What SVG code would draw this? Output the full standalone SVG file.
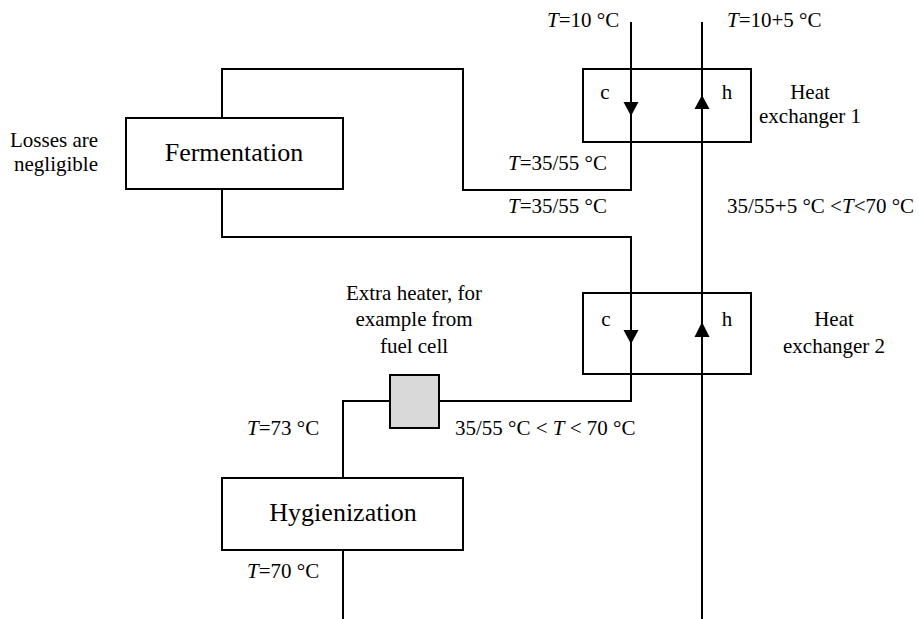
<svg xmlns="http://www.w3.org/2000/svg" width="919" height="619" viewBox="0 0 919 619" font-family="'Liberation Serif', 'Times New Roman', Tinos, 'DejaVu Serif', serif">
<style>
text{font-family:'Liberation Serif','Times New Roman',Tinos,'DejaVu Serif',serif;fill:#000}
.lbl{font-size:21px}
.big{font-size:26px}
.box{fill:none;stroke:#000;stroke-width:2}
.heater{fill:#d9d9d9;stroke:#000;stroke-width:2}
.line{fill:none;stroke:#000;stroke-width:2}
.arr{fill:#000;stroke:none}
.it{font-style:italic}
</style>
<rect width="919" height="619" fill="#fff"/>
<g id="connectors">
<path class="line" d="M631,22 V190 H463 V69 H222 V118"/>
<path class="line" d="M222,189 V237 H631 V401 H439"/>
<path class="line" d="M390,401 H343 V478"/>
<path class="line" d="M343,550 V619"/>
<path class="line" d="M702,619 V22"/>
<polygon class="arr" points="623.5,102 638.5,102 631,116"/>
<polygon class="arr" points="694.5,109 709.5,109 702,95"/>
<polygon class="arr" points="623.5,330 638.5,330 631,344"/>
<polygon class="arr" points="694.5,337 709.5,337 702,322"/>
</g>
<g id="fermentation">
<rect class="box" x="126" y="118" width="217" height="71"/>
<text class="big" x="234" y="161" text-anchor="middle">Fermentation</text>
</g>
<g id="losses-note">
<text class="lbl" x="54" y="147" text-anchor="middle">Losses are</text>
<text class="lbl" x="56" y="171" text-anchor="middle">negligible</text>
</g>
<g id="heat-exchanger-1">
<rect class="box" x="583" y="69" width="168" height="73"/>
<text class="lbl" x="605" y="99" text-anchor="middle">c</text>
<text class="lbl" x="727" y="99" text-anchor="middle">h</text>
<text class="lbl" x="810" y="99" text-anchor="middle">Heat</text>
<text class="lbl" x="810" y="123" text-anchor="middle">exchanger 1</text>
</g>
<g id="heat-exchanger-2">
<rect class="box" x="583" y="293" width="168" height="81"/>
<text class="lbl" x="606" y="326" text-anchor="middle">c</text>
<text class="lbl" x="727" y="326" text-anchor="middle">h</text>
<text class="lbl" x="834" y="326" text-anchor="middle">Heat</text>
<text class="lbl" x="834" y="353" text-anchor="middle">exchanger 2</text>
</g>
<g id="extra-heater">
<rect class="heater" x="390" y="375" width="49" height="53"/>
<text class="lbl" x="414" y="300" text-anchor="middle">Extra heater, for</text>
<text class="lbl" x="414" y="326" text-anchor="middle">example from</text>
<text class="lbl" x="414" y="353" text-anchor="middle">fuel cell</text>
</g>
<g id="hygienization">
<rect class="box" x="222" y="478" width="241" height="72"/>
<text class="big" x="343" y="521" text-anchor="middle">Hygienization</text>
</g>
<g id="labels">
<text class="lbl" x="547" y="27"><tspan class="it">T</tspan>=10 °C</text>
<text class="lbl" x="727" y="27"><tspan class="it">T</tspan>=10+5 °C</text>
<text class="lbl" x="508" y="170"><tspan class="it">T</tspan>=35/55 °C</text>
<text class="lbl" x="508" y="213"><tspan class="it">T</tspan>=35/55 °C</text>
<text class="lbl" x="727" y="213">35/55+5 °C &lt;<tspan class="it">T</tspan>&lt;70 °C</text>
<text class="lbl" x="455" y="435">35/55 °C &lt; <tspan class="it">T</tspan> &lt; 70 °C</text>
<text class="lbl" x="247" y="435"><tspan class="it">T</tspan>=73 °C</text>
<text class="lbl" x="247" y="578"><tspan class="it">T</tspan>=70 °C</text>
</g>
</svg>
